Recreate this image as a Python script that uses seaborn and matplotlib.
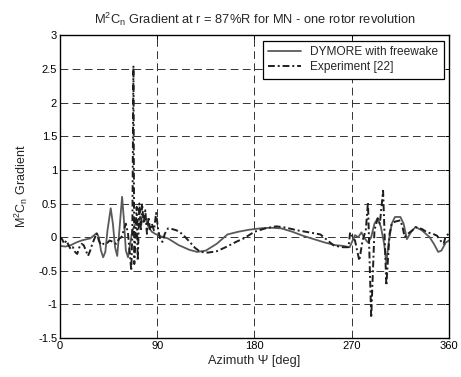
import matplotlib
matplotlib.use("Agg")
import matplotlib.pyplot as plt
import seaborn as sns
import pandas as pd

# ---- data ----
dym_az = [0, 5, 10, 15, 20, 25, 28, 31, 34, 36, 38, 40, 42, 44, 47, 49, 51, 53, 55, 57.5,
          59, 61, 63, 65, 67, 70, 73, 76, 79, 82, 85, 88, 92, 100, 110, 120, 127, 135, 145,
          155, 165, 175, 185, 195, 205, 215, 225, 235, 245, 255, 262, 268, 270, 273, 276,
          279, 282, 285, 288, 291, 294, 297, 300, 302, 304, 307, 310, 315, 318, 321, 325,
          329, 335, 342, 346, 350, 353, 357, 360]
dym_val = [-0.13, -0.14, -0.12, -0.08, -0.05, -0.03, -0.02, 0.02, 0.06, 0.0, -0.2, -0.3, -0.22,
           0.1, 0.43, 0.2, -0.15, -0.28, 0.1, 0.6, 0.3, -0.2, -0.3, -0.1, 0.1, 0.2, 0.25, 0.3,
           0.28, 0.15, 0.08, 0.05, 0.02, -0.02, -0.12, -0.19, -0.22, -0.2, -0.1, 0.04, 0.08,
           0.11, 0.13, 0.14, 0.13, 0.08, 0.02, -0.03, -0.08, -0.12, -0.13, -0.15, -0.08, 0.03,
           0.0, 0.07, -0.02, -0.08, 0.0, 0.2, 0.28, 0.15, -0.1, -0.38, -0.1, 0.2, 0.3, 0.3,
           0.2, -0.03, 0.08, 0.15, 0.1, 0.0, -0.1, -0.22, -0.2, -0.08, -0.05]

exp_az = [0, 2, 4, 6, 8, 10, 12, 14, 16, 18, 20, 22, 24, 26, 28, 30, 32, 34, 36, 38, 40, 43,
          46, 49, 52, 55, 57, 59, 61, 63, 65, 66, 67, 68, 68.8, 70, 71, 72, 73.5, 75, 76, 77.5,
          79, 80.5, 82, 83.5, 85, 87, 89, 91, 93, 95, 97, 100, 104, 108, 112, 116, 120, 125,
          130, 137, 145, 152, 157, 163, 170, 175, 180, 190, 200, 206, 212, 220, 231, 241, 247,
          253, 258, 262, 267, 268.5, 271, 273, 277, 280, 283, 285, 288, 291, 294, 296, 299,
          302, 305, 307, 310, 315, 317, 319, 322, 326, 329, 335, 340, 345, 349, 352, 355, 357,
          360]
exp_val = [0.0, -0.03, -0.1, -0.05, -0.12, -0.18, -0.15, -0.22, -0.25, -0.15, -0.1, -0.12,
           -0.2, -0.28, -0.2, -0.1, -0.02, 0.06, -0.05, -0.12, -0.1, -0.1, -0.05, -0.07, -0.1,
           -0.02, 0.0, 0.1, 0.2, 0.05, -0.3, -0.5, 0.1, 2.55, -0.4, 0.1, 0.45, -0.35, 0.5, 0.1,
           0.5, 0.2, 0.4, 0.05, 0.3, 0.1, 0.2, 0.1, 0.36, 0.1, -0.05, -0.07, 0.05, 0.13, 0.12,
           0.1, 0.06, 0.0, -0.07, -0.16, -0.22, -0.23, -0.21, -0.16, -0.12, -0.07, -0.02, 0.03,
           0.08, 0.13, 0.16, 0.15, 0.13, 0.1, 0.07, 0.04, -0.04, -0.12, -0.14, -0.15, -0.15,
           0.07, 0.0, -0.05, -0.35, -0.05, 0.1, 0.52, -1.2, 0.1, 0.28, 0.2, 0.69, -0.72, 0.05,
           0.2, 0.23, 0.25, 0.15, 0.0, 0.05, 0.1, 0.15, 0.12, 0.07, 0.05, 0.02, -0.05, -0.1,
           0.02, 0.05]

x_ticks = [0, 90, 180, 270, 360]
y_ticks = [-1.5, -1, -0.5, 0, 0.5, 1, 1.5, 2, 2.5, 3]
y_tick_labels = ["-1.5", "-1", "-0.5", "0", "0.5", "1", "1.5", "2", "2.5", "3"]

# ---- style ----
sns.set_style("white")
plt.rcParams["font.family"] = ["Liberation Sans", "DejaVu Sans"]
plt.rcParams["mathtext.default"] = "regular"
plt.rcParams["font.size"] = 8

fig = plt.figure(figsize=(4.61, 3.77), dpi=100)
ax = fig.add_axes([0.130, 0.1035, 0.844, 0.8025])

dym = pd.DataFrame({"az": dym_az, "val": dym_val})
exp = pd.DataFrame({"az": exp_az, "val": exp_val})

sns.lineplot(data=dym, x="az", y="val", sort=False, estimator=None, ax=ax,
             color="#5a5a5a", linewidth=1.3, label="DYMORE with freewake")
sns.lineplot(data=exp, x="az", y="val", sort=False, estimator=None, ax=ax,
             color="#1e1e1e", linewidth=1.4, linestyle=(0, (3.5, 1.5, 1, 1.5)),
             label="Experiment [22]")

ax.set_xlim(0, 360)
ax.set_ylim(-1.5, 3)
ax.set_xticks(x_ticks)
ax.set_xticklabels([str(t) for t in x_ticks])
ax.set_yticks(y_ticks)
ax.set_yticklabels(y_tick_labels)

ax.grid(True, color="#333333", linestyle=(0, (8, 4.5)), linewidth=0.7)
ax.set_axisbelow(True)
for s in ax.spines.values():
    s.set_color("black")
    s.set_linewidth(1.0)
ax.tick_params(direction="in", length=3, width=0.7, top=True, right=True,
               labelsize=8, colors="black", pad=2)

ax.set_title("M$^2$C$_n$ Gradient at r = 87%R for MN - one rotor revolution",
             fontsize=9.3, pad=8)
ax.set_xlabel("Azimuth Ψ [deg]", fontsize=9.2, labelpad=3)
ax.set_ylabel("M$^2$C$_n$ Gradient", fontsize=9.0, labelpad=6)

leg = ax.legend(loc="upper right", fontsize=8.6, frameon=True, fancybox=False,
                edgecolor="black", framealpha=1, borderpad=0.45, handlelength=2.7,
                labelspacing=0.25, borderaxespad=0.45)
leg.get_frame().set_linewidth(0.9)

fig.savefig("out.png", dpi=100)
